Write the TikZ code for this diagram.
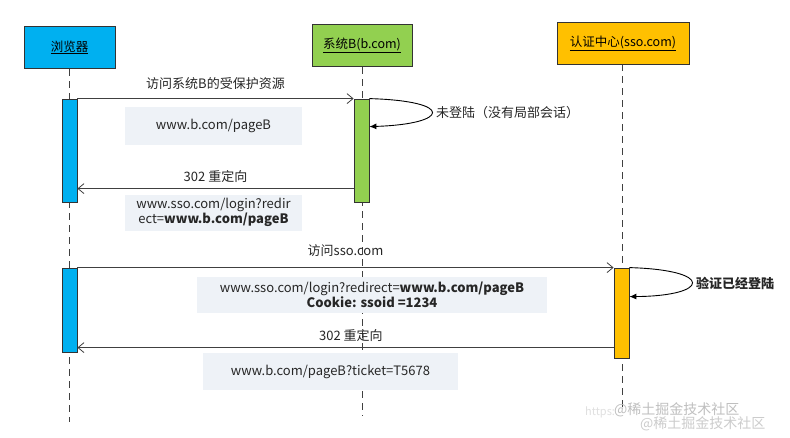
\documentclass[tikz,border=0pt]{standalone}
\usepackage{fontspec}
\setmainfont{Noto Sans CJK SC}
\newfontfamily\cjk{Noto Sans CJK SC}
\usetikzlibrary{arrows.meta}
\definecolor{cblue}{HTML}{00B0F0}
\definecolor{cgreen}{HTML}{92D050}
\definecolor{corange}{HTML}{FFC000}
\definecolor{cgraybox}{HTML}{EEF2F7}
\definecolor{cline}{HTML}{404040}
\begin{document}
\begin{tikzpicture}[x=1pt,y=-1pt,
  head/.style={draw=black!80,line width=0.8pt,minimum width=#1,minimum height=42pt,inner sep=0pt,font=\fontsize{12.5}{14}\selectfont},
  actbar/.style={draw=black!80,line width=0.8pt,minimum width=15pt,inner sep=0pt},
  life/.style={draw=cline,line width=0.9pt,dash pattern=on 7pt off 5pt},
  msg/.style={draw=cline,line width=0.9pt,-{Straight Barb[length=6pt,width=10pt,line width=0.8pt]}},
  selfmsg/.style={draw=black,line width=0.9pt,-{Latex[length=7pt,width=6pt]}},
  lbl/.style={font=\fontsize{13}{14}\selectfont,inner sep=1pt,text=black!85},
  gbox/.style={fill=cgraybox,inner sep=0pt,font=\fontsize{13}{15}\selectfont,align=center,text=black!85},
  wm/.style={font=\fontsize{14}{16}\selectfont,text=black!25,inner sep=0pt,anchor=west}]
\useasboundingbox (0,0) rectangle (790,437);
\fill[white] (0,0) rectangle (790,437);

% lifelines
\coordinate (l1top) at (69,69); \coordinate (l1bot) at (69,422);
\coordinate (l2top) at (362,67); \coordinate (l2bot) at (362,416);
\coordinate (l3top) at (622,64); \coordinate (l3bot) at (622,408);
\draw[life] (l1top) -- (l1bot);
\draw[life] (l2top) -- (l2bot);
\draw[life] (l3top) -- (l3bot);

% heads
\node[head=91pt,fill=cblue] (h1) at (69.5,47.5) {\underline{浏览器}};
\node[head=100pt,fill=cgreen] (h2) at (362,45.5) {\underline{系统B(b.com)}};
\node[head=132pt,fill=corange,minimum height=42pt] (h3) at (623,43) {\underline{认证中心(sso.com)}};

% gray boxes
\node[gbox,minimum width=177pt,minimum height=38pt] (g1) at (213.5,126) {www.b.com/pageB};
\node[gbox,minimum width=177pt,minimum height=36pt] (g2) at (213.5,212.5) {www.sso.com/login?redir\\ect=\textbf{www.b.com/pageB}};
\node[gbox,minimum width=350pt,minimum height=36pt] (g3) at (372,295) {www.sso.com/login?redirect=\textbf{www.b.com/pageB}\\\textbf{Cookie: ssoid =1234}};
\node[gbox,minimum width=255pt,minimum height=37pt] (g4) at (330.5,371.5) {www.b.com/pageB?ticket=T5678};

% activation bars
\node[actbar,fill=cblue,minimum height=103pt] (a1) at (69.5,150.5) {};
\node[actbar,fill=cgreen,minimum height=103pt] (b1) at (361.5,150.5) {};
\node[actbar,fill=cblue,minimum height=84pt] (a2) at (69.5,310) {};
\node[actbar,fill=corange,minimum height=90pt] (c1) at (621.5,313) {};

% messages
\draw[msg] (a1.north east) -- (b1.north west) node[lbl,midway,above=8pt] (m1) {访问系统B的受保护资源};
\coordinate (b1ret) at ([yshift=-28pt]b1.north east);
\draw[selfmsg] (b1.north east) .. controls (455,101) and (450,124) .. (b1ret);
\node[lbl,anchor=west] (m2) at (435,113) {未登陆（没有局部会话）};
\coordinate (b1r) at ([yshift=-90pt]b1.north west);
\coordinate (a1r) at ([yshift=-90pt]a1.north east);
\draw[msg] (b1r) -- (a1r) node[lbl,midway,above=5pt] (m3) {302 重定向};

\draw[msg] (a2.north east) -- (c1.north west) node[lbl,pos=0.5,above=10pt,xshift=0pt] (m4) {访问sso.com};
\coordinate (c1ret) at ([yshift=-29pt]c1.north east);
\draw[selfmsg] (c1.north east) .. controls (715,270) and (710,296) .. (c1ret);
\node[lbl,anchor=west,font=\fontsize{13}{14}\selectfont\bfseries] (m5) at (695,283) {验证已经登陆};
\coordinate (c1r) at ([yshift=-80pt]c1.north west);
\coordinate (a2r) at ([yshift=-80pt]a2.north east);
\draw[msg] (c1r) -- (a2r) node[lbl,pos=0.49,above=5pt] (m6) {302 重定向};

% watermark
\node[wm,text=black!12,font=\fontsize{11}{12}\selectfont] (w0) at (585,412) {https:};
\node[wm] (w1) at (614,410) {@稀土掘金技术社区};
\node[wm,text=black!20] (w2) at (640,424) {@稀土掘金技术社区};
\end{tikzpicture}
\end{document}
